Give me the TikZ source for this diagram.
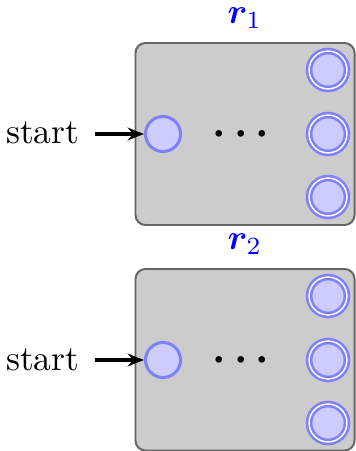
\documentclass[tikz,border=0pt]{standalone}
\usepackage{amsmath,bm}
\usetikzlibrary{arrows.meta}
\tikzset{
  regionbox/.style={draw=black!60, fill=black!20, line width=0.56pt, rounded corners=2.8pt},
  initstate/.style={circle, draw=blue!50, fill=blue!20, line width=0.85pt, minimum size=9.9pt, inner sep=0pt},
  accstate/.style={circle, draw=blue!50, fill=blue!20, line width=0.73pt, double=white, double distance=0.42pt, minimum size=10.7pt, inner sep=0pt},
  startlbl/.style={inner sep=0pt, anchor=base east},
  regionlbl/.style={text=blue, inner sep=0pt},
  startarrow/.style={-{Stealth[length=4.6pt,width=3.6pt]}, line width=0.9pt},
  dotslbl/.style={inner sep=0pt, font=\boldmath\fontsize{12}{14}\selectfont}
}
\begin{document}
\begin{tikzpicture}[x=0.2825pt,y=-0.2825pt]
\useasboundingbox (0,0) rectangle (356,451);
% region 1
\draw[regionbox] (135.5,43) rectangle (354.5,225);
\node[regionlbl] (r1) at (245,18) {$\bm{r}_1$};
\node[initstate] (s1) at (163,134) {};
\node[accstate] (a11) at (328,70) {};
\node[accstate] (a12) at (328,134) {};
\node[accstate] (a13) at (328,197) {};
\node[dotslbl] (d1) at (245,134) {$\cdots$};
\node[startlbl] (t1) at (80,144) {start};
\coordinate (c1) at (95,134);
\draw[startarrow] (c1) -- (s1);
% region 2
\draw[regionbox] (135.5,269) rectangle (354.5,450.5);
\node[regionlbl] (r2) at (245,244) {$\bm{r}_2$};
\node[initstate] (s2) at (163,360) {};
\node[accstate] (a21) at (328,296) {};
\node[accstate] (a22) at (328,360) {};
\node[accstate] (a23) at (328,423) {};
\node[dotslbl] (d2) at (245,360) {$\cdots$};
\node[startlbl] (t2) at (80,370) {start};
\coordinate (c2) at (95,360);
\draw[startarrow] (c2) -- (s2);
\end{tikzpicture}
\end{document}
